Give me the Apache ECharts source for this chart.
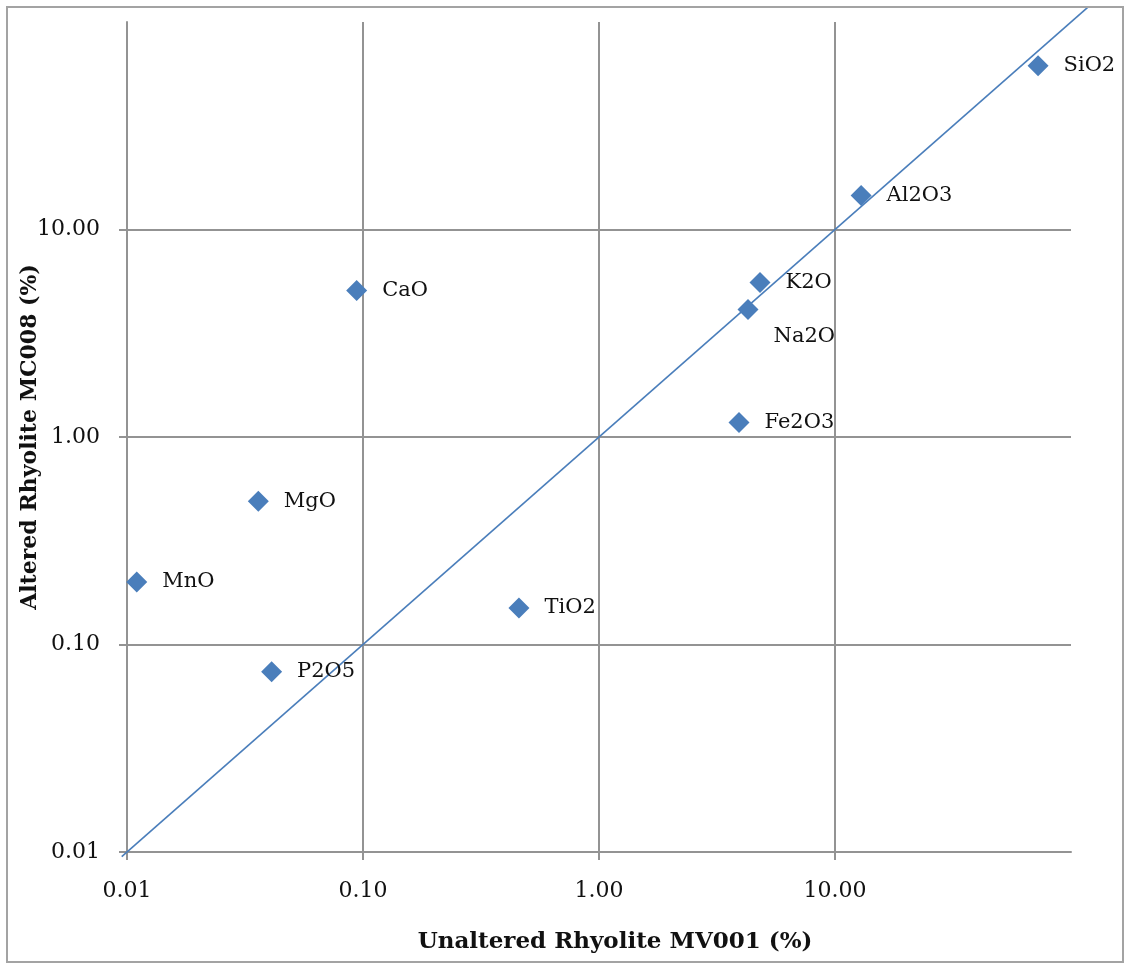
<!DOCTYPE html>
<html>
<head>
<meta charset="utf-8">
<script src="https://cdn.jsdelivr.net/npm/echarts@6/dist/echarts.min.js"></script>
<style>html,body{margin:0;padding:0;background:#fff;}#c{width:1124px;height:963px;}</style>
</head>
<body>
<div id="c"></div>
<script>
const oxides = ['SiO2','Al2O3','K2O','Na2O','Fe2O3','CaO','MgO','MnO','TiO2','P2O5'];
const unaltered = [72.5, 12.9, 4.81, 4.28, 3.92, 0.094, 0.036, 0.011, 0.458, 0.041];
const altered   = [61.5, 14.6, 5.55, 4.12, 1.175, 5.08, 0.49, 0.20, 0.150, 0.074];
const refLineX = [0.0095, 118];
const refLineY = [0.0095, 118];
const xTitle = 'Unaltered Rhyolite MV001 (%)';
const yTitle = 'Altered Rhyolite MC008 (%)';

const FONT = '"DejaVu Serif", "Liberation Serif", serif';
const BLUE = '#4a7ebb';
const GRID = '#939393';

const points = oxides.map((n, i) => {
  const p = { name: n, value: [unaltered[i], altered[i]] };
  if (n === 'Na2O') p.label = { offset: [0, 27] };
  return p;
});

const axisCommon = {
  type: 'log', logBase: 10, min: 0.01, max: 100,
  axisLine: { show: true, lineStyle: { color: GRID, width: 2 } },
  axisTick: { show: true, length: 8, lineStyle: { color: GRID, width: 2 } },
  splitLine: { show: true, showMinLine: false, showMaxLine: false, lineStyle: { color: GRID, width: 2 } },
  minorTick: { show: false }, minorSplitLine: { show: false },
  axisLabel: {
    fontFamily: FONT, fontSize: 22, color: '#111',
    showMaxLabel: false,
    formatter: v => (v >= 99 ? '' : Number(v).toFixed(2))
  }
};

const chart = echarts.init(document.getElementById('c'), null, { renderer: 'canvas' });
const baseGraphics = [
  { id: 'border', type: 'rect', shape: { x: 7, y: 7, width: 1116, height: 955 }, style: { fill: 'none', stroke: '#a3a3a3', lineWidth: 2 }, z: 100 },
  { id: 'xt', type: 'text', x: 615, y: 942, style: { text: xTitle, font: 'bold 23px ' + FONT, fill: '#111', textAlign: 'center', textVerticalAlign: 'middle' } },
  { id: 'yt', type: 'text', x: 30, y: 437, rotation: Math.PI / 2, style: { text: yTitle, font: 'bold 22px ' + FONT, fill: '#111', textAlign: 'center', textVerticalAlign: 'middle' } }
];
chart.setOption({
  animation: false,
  backgroundColor: '#fff',
  grid: { left: 127, top: 22, right: 53, bottom: 111, containLabel: false },
  xAxis: Object.assign({}, axisCommon, { axisLabel: Object.assign({}, axisCommon.axisLabel, { margin: 28 }) }),
  yAxis: Object.assign({}, axisCommon, { axisLabel: Object.assign({}, axisCommon.axisLabel, { margin: 27 }) }),
  graphic: baseGraphics,
  series: [
    {
      type: 'scatter',
      data: points,
      symbol: 'diamond', symbolSize: 21,
      itemStyle: { color: BLUE, opacity: 1 },
      label: {
        show: true, position: 'right', distance: 15,
        formatter: p => p.name,
        fontFamily: FONT, fontSize: 21, color: '#111'
      },
      z: 4
    }
  ]
});
// 1:1 reference line, positioned through the chart's own log scales (extends past the axis max like the original)
const pts = refLineX.map((x, i) => chart.convertToPixel({ gridIndex: 0 }, [x, refLineY[i]]));
chart.setOption({
  graphic: baseGraphics.concat([
    { id: 'ref', type: 'polyline', shape: { points: pts }, style: { stroke: BLUE, lineWidth: 1.6, fill: null }, z: 3, silent: true }
  ])
});
</script>
</body>
</html>
